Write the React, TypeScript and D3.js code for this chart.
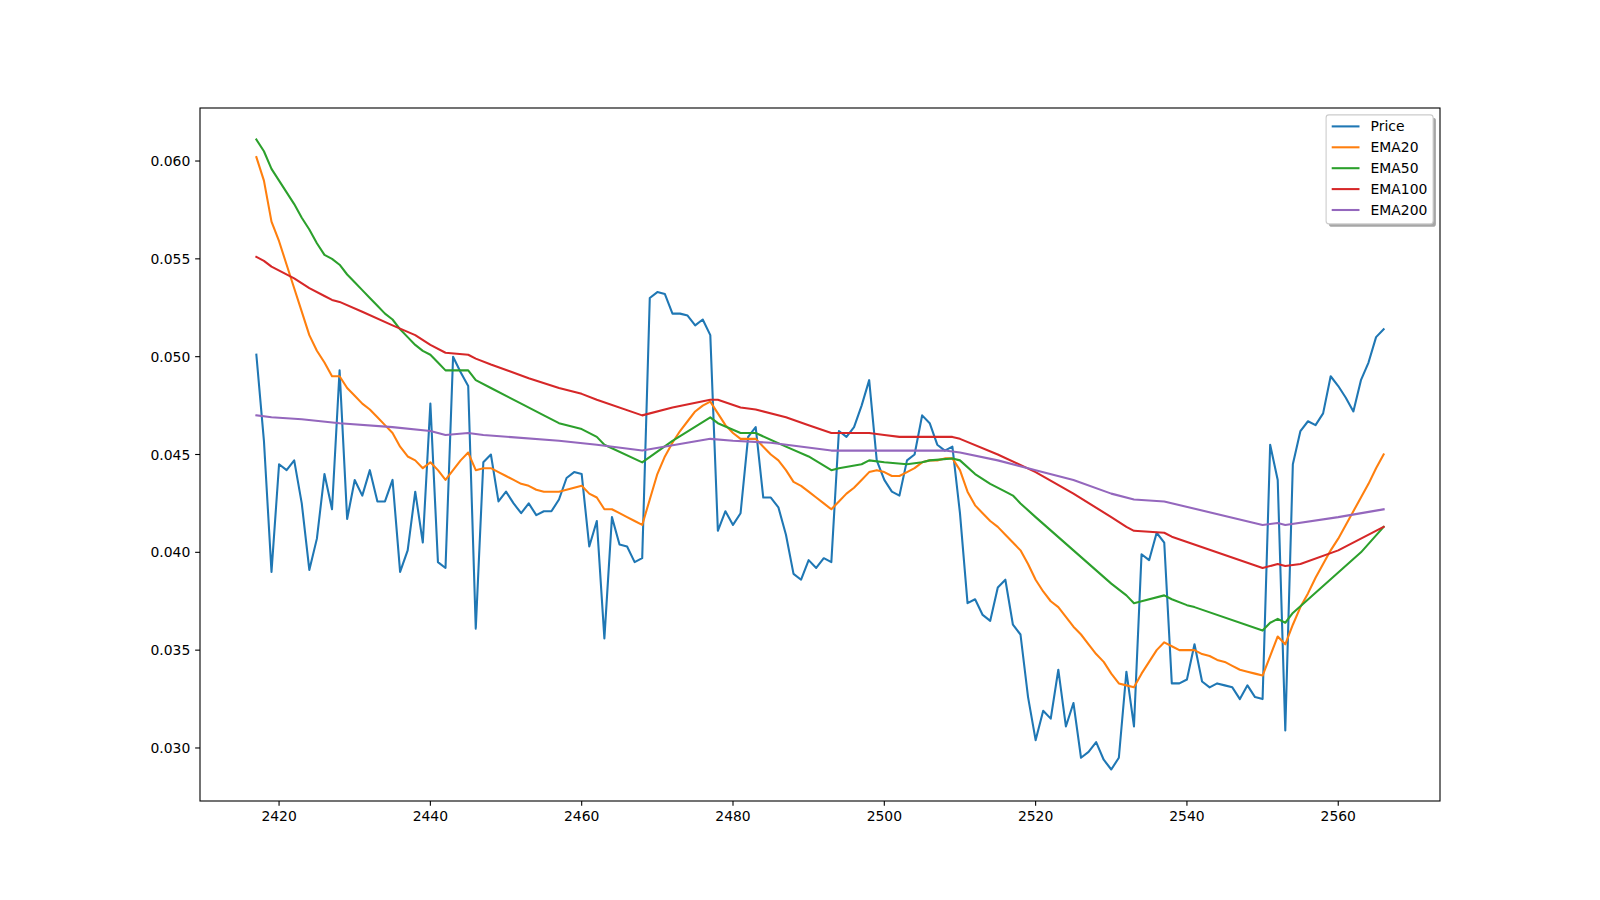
import React from 'react';
import * as d3 from 'd3';

// price index runs 2417..2566, one value per bar
const START_INDEX = 2417;

const price = [
  0.0501, 0.0457, 0.0390, 0.0445, 0.0442, 0.0447, 0.0425, 0.0391, 0.0407, 0.0440,
  0.0422, 0.0493, 0.0417, 0.0437, 0.0429, 0.0442, 0.0426, 0.0426, 0.0437, 0.0390,
  0.0401, 0.0431, 0.0405, 0.0476, 0.0395, 0.0392, 0.0500, 0.0492, 0.0485, 0.0361,
  0.0446, 0.0450, 0.0426, 0.0431, 0.0425, 0.0420, 0.0425, 0.0419, 0.0421, 0.0421,
  0.0427, 0.0438, 0.0441, 0.0440, 0.0403, 0.0416, 0.0356, 0.0418, 0.0404, 0.0403,
  0.0395, 0.0397, 0.0530, 0.0533, 0.0532, 0.0522, 0.0522, 0.0521, 0.0516, 0.0519,
  0.0511, 0.0411, 0.0421, 0.0414, 0.0420, 0.0459, 0.0464, 0.0428, 0.0428, 0.0423,
  0.0409, 0.0389, 0.0386, 0.0396, 0.0392, 0.0397, 0.0395, 0.0462, 0.0459, 0.0464,
  0.0475, 0.0488, 0.0447, 0.0437, 0.0431, 0.0429, 0.0447, 0.0450, 0.0470, 0.0466,
  0.0455, 0.0452, 0.0454, 0.0420, 0.0374, 0.0376, 0.0368, 0.0365, 0.0382, 0.0386,
  0.0363, 0.0358, 0.0326, 0.0304, 0.0319, 0.0315, 0.0340, 0.0311, 0.0323, 0.0295,
  0.0298, 0.0303, 0.0294, 0.0289, 0.0295, 0.0339, 0.0311, 0.0399, 0.0396, 0.0410,
  0.0405, 0.0333, 0.0333, 0.0335, 0.0353, 0.0334, 0.0331, 0.0333, 0.0332, 0.0331,
  0.0325, 0.0332, 0.0326, 0.0325, 0.0455, 0.0437, 0.0309, 0.0445, 0.0462, 0.0467,
  0.0465, 0.0471, 0.0490, 0.0485, 0.0479, 0.0472, 0.0488, 0.0497, 0.0510, 0.0514,
];

const ema20 = [
  0.0602, 0.0590, 0.0569, 0.0559, 0.0547, 0.0535, 0.0523, 0.0511, 0.0503, 0.0497,
  0.0490, 0.0490, 0.0484, 0.0480, 0.0476, 0.0473, 0.0469, 0.0465, 0.0461, 0.0454,
  0.0449, 0.0447, 0.0443, 0.0446, 0.0442, 0.0437, 0.0442, 0.0447, 0.0451, 0.0442,
  0.0443, 0.0443, 0.0441, 0.0439, 0.0437, 0.0435, 0.0434, 0.0432, 0.0431, 0.0431,
  0.0431, 0.0432, 0.0433, 0.0434, 0.0430, 0.0428, 0.0422, 0.0422, 0.0420, 0.0418,
  0.0416, 0.0414, 0.0427, 0.0440, 0.0449, 0.0456, 0.0462, 0.0467, 0.0472, 0.0475,
  0.0477, 0.0471, 0.0465, 0.0461, 0.0458, 0.0458, 0.0458, 0.0454, 0.0450, 0.0447,
  0.0442, 0.0436, 0.0434, 0.0431, 0.0428, 0.0425, 0.0422, 0.0426, 0.0430, 0.0433,
  0.0437, 0.0441, 0.0442, 0.0441, 0.0439, 0.0439, 0.0441, 0.0443, 0.0446, 0.0447,
  0.0447, 0.0448, 0.0448, 0.0442, 0.0431, 0.0424, 0.0420, 0.0416, 0.0413, 0.0409,
  0.0405, 0.0401, 0.0394, 0.0386, 0.0380, 0.0375, 0.0372, 0.0367, 0.0362, 0.0358,
  0.0353, 0.0348, 0.0344, 0.0338, 0.0333, 0.0332, 0.0331, 0.0338, 0.0344, 0.0350,
  0.0354, 0.0352, 0.0350, 0.0350, 0.0350, 0.0348, 0.0347, 0.0345, 0.0344, 0.0342,
  0.0340, 0.0339, 0.0338, 0.0337, 0.0347, 0.0357, 0.0353, 0.0363, 0.0372, 0.0379,
  0.0387, 0.0394, 0.0401, 0.0407, 0.0414, 0.0421, 0.0428, 0.0435, 0.0443, 0.0450,
];

// the slower averages are read at fewer points
const ema50X = [
  2417, 2418, 2419, 2420, 2421, 2422, 2423, 2424, 2425, 2426, 2427, 2428, 2429, 2430,
  2431, 2432, 2433, 2434, 2435, 2436, 2437, 2438, 2439, 2440, 2441, 2442, 2443, 2444,
  2445, 2446, 2448, 2452, 2455, 2457, 2460, 2462, 2463, 2468, 2472, 2477, 2478, 2481,
  2483, 2487, 2490, 2493, 2494, 2497, 2498, 2500, 2503, 2505, 2506, 2509, 2510, 2512,
  2514, 2516, 2517, 2518, 2520, 2525, 2530, 2532, 2533, 2534, 2537, 2538, 2540, 2541,
  2550, 2551, 2552, 2553, 2554, 2563, 2566,
];
const ema50 = [
  0.0611, 0.0605, 0.0596, 0.0590, 0.0584, 0.0578, 0.0571, 0.0565, 0.0558, 0.0552, 0.0550, 0.0547, 0.0542, 0.0538,
  0.0534, 0.0530, 0.0526, 0.0522, 0.0519, 0.0514, 0.0510, 0.0506, 0.0503, 0.0501, 0.0497, 0.0493, 0.0493, 0.0493,
  0.0493, 0.0488, 0.0484, 0.0476, 0.0470, 0.0466, 0.0463, 0.0459, 0.0455, 0.0446, 0.0457, 0.0469, 0.0466, 0.0461,
  0.0461, 0.0454, 0.0449, 0.0442, 0.0443, 0.0445, 0.0447, 0.0446, 0.0445, 0.0446, 0.0447, 0.0448, 0.0447, 0.0440,
  0.0435, 0.0431, 0.0429, 0.0425, 0.0418, 0.0401, 0.0384, 0.0378, 0.0374, 0.0375, 0.0378, 0.0376, 0.0373, 0.0372,
  0.0360, 0.0364, 0.0366, 0.0364, 0.0369, 0.0400, 0.0413,
];

const ema100X = [
  2417, 2418, 2419, 2422, 2424, 2426, 2427, 2428, 2431, 2435, 2438, 2440, 2442, 2445,
  2446, 2448, 2453, 2457, 2460, 2462, 2468, 2472, 2477, 2478, 2481, 2483, 2487, 2490,
  2493, 2496, 2498, 2500, 2502, 2509, 2510, 2515, 2520, 2525, 2530, 2532, 2533, 2537,
  2538, 2550, 2552, 2553, 2555, 2560, 2566,
];
const ema100 = [
  0.0551, 0.0549, 0.0546, 0.0540, 0.0535, 0.0531, 0.0529, 0.0528, 0.0523, 0.0516, 0.0511, 0.0506, 0.0502, 0.0501,
  0.0499, 0.0496, 0.0489, 0.0484, 0.0481, 0.0478, 0.0470, 0.0474, 0.0478, 0.0478, 0.0474, 0.0473, 0.0469, 0.0465,
  0.0461, 0.0461, 0.0461, 0.0460, 0.0459, 0.0459, 0.0458, 0.0450, 0.0441, 0.0430, 0.0418, 0.0413, 0.0411, 0.0410,
  0.0408, 0.0392, 0.0394, 0.0393, 0.0394, 0.0401, 0.0413,
];

const ema200X = [
  2417, 2419, 2423, 2428, 2435, 2440, 2442, 2445, 2447, 2457, 2462, 2468, 2477, 2480,
  2485, 2493, 2500, 2508, 2510, 2515, 2520, 2525, 2530, 2533, 2537, 2550, 2552, 2553,
  2560, 2566,
];
const ema200 = [
  0.0470, 0.0469, 0.0468, 0.0466, 0.0464, 0.0462, 0.0460, 0.0461, 0.0460, 0.0457, 0.0455, 0.0452, 0.0458, 0.0457,
  0.0456, 0.0452, 0.0452, 0.0452, 0.0451, 0.0447, 0.0442, 0.0437, 0.0430, 0.0427, 0.0426, 0.0414, 0.0415, 0.0414,
  0.0418, 0.0422,
];

const seriesNames = ['Price', 'EMA20', 'EMA50', 'EMA100', 'EMA200'];
const seriesColors = ['#1f77b4', '#ff7f0e', '#2ca02c', '#d62728', '#9467bd'];
const xTicks = [2420, 2440, 2460, 2480, 2500, 2520, 2540, 2560];
const yTicks = [0.030, 0.035, 0.040, 0.045, 0.050, 0.055, 0.060];

const W = 1600;
const H = 900;
const margin = { left: 200, right: 160, top: 108, bottom: 99 };
const FONT = '"DejaVu Sans", Verdana, sans-serif';
const FS = 13.9;

export default function App() {
  const fullX = price.map((_, i) => START_INDEX + i);
  const series = [
    { name: seriesNames[0], color: seriesColors[0], pts: fullX.map((x, i) => [x, price[i]]) },
    { name: seriesNames[1], color: seriesColors[1], pts: fullX.map((x, i) => [x, ema20[i]]) },
    { name: seriesNames[2], color: seriesColors[2], pts: ema50X.map((x, i) => [x, ema50[i]]) },
    { name: seriesNames[3], color: seriesColors[3], pts: ema100X.map((x, i) => [x, ema100[i]]) },
    { name: seriesNames[4], color: seriesColors[4], pts: ema200X.map((x, i) => [x, ema200[i]]) },
  ];

  // matplotlib style 5% padding around the data
  const allPts = series.flatMap(s => s.pts);
  const [x0, x1] = d3.extent(allPts, d => d[0]);
  const [y0, y1] = d3.extent(allPts, d => d[1]);
  const xPad = (x1 - x0) * 0.05;
  const yPad = (y1 - y0) * 0.05;

  const left = margin.left;
  const right = W - margin.right;
  const top = margin.top;
  const bottom = H - margin.bottom;

  const x = d3.scaleLinear().domain([x0 - xPad, x1 + xPad]).range([left, right]);
  const y = d3.scaleLinear().domain([y0 - yPad, y1 + yPad]).range([bottom, top]);

  const line = d3.line<number[]>().x(d => x(d[0])).y(d => y(d[1]));

  const tickLen = 4.86;
  const tickPad = 4.86;

  // legend geometry (upper right, shadowed box)
  const lgRight = right - 6.9;
  const lgTop = top + 6.9;
  const lgW = 107;
  const lgH = 109;
  const lgLeft = lgRight - lgW;
  const rowGap = 20.9;

  return (
    <svg
      width={W}
      height={H}
      style={{ position: 'fixed', left: 0, top: 0, background: '#fff' }}
      fontFamily={FONT}
    >
      <rect x={0} y={0} width={W} height={H} fill="#fff" />

      {series.map(s => (
        <path
          key={s.name}
          d={line(s.pts) || ''}
          fill="none"
          stroke={s.color}
          strokeWidth={2.08}
          strokeLinejoin="round"
          strokeLinecap="square"
        />
      ))}

      {/* frame */}
      <rect x={left} y={top} width={right - left} height={bottom - top} fill="none" stroke="#000" strokeWidth={1.1} />

      {/* x axis */}
      {xTicks.map(t => (
        <g key={t}>
          <line x1={x(t)} x2={x(t)} y1={bottom} y2={bottom + tickLen} stroke="#000" strokeWidth={1.1} />
          <text x={x(t)} y={bottom + tickLen + tickPad + 10.1} fontSize={FS} textAnchor="middle" fill="#000">
            {t}
          </text>
        </g>
      ))}

      {/* y axis */}
      {yTicks.map(t => (
        <g key={t}>
          <line x1={left - tickLen} x2={left} y1={y(t)} y2={y(t)} stroke="#000" strokeWidth={1.1} />
          <text x={left - tickLen - tickPad} y={y(t) + 5.05} fontSize={FS} textAnchor="end" fill="#000">
            {t.toFixed(3)}
          </text>
        </g>
      ))}

      {/* legend */}
      <rect x={lgLeft + 2.8} y={lgTop + 2.8} width={lgW} height={lgH} rx={2.8} fill="#4d4d4d" fillOpacity={0.5} />
      <rect x={lgLeft} y={lgTop} width={lgW} height={lgH} rx={2.8} fill="#fff" stroke="#cccccc" strokeWidth={1.1} />
      {series.map((s, i) => {
        const ly = lgTop + 11.5 + i * rowGap;
        return (
          <g key={s.name}>
            <line x1={lgLeft + 5.6} x2={lgLeft + 33.4} y1={ly} y2={ly} stroke={s.color} strokeWidth={2.08} />
            <text x={lgLeft + 44.5} y={ly + 5.0} fontSize={FS} fill="#000">
              {s.name}
            </text>
          </g>
        );
      })}
    </svg>
  );
}
